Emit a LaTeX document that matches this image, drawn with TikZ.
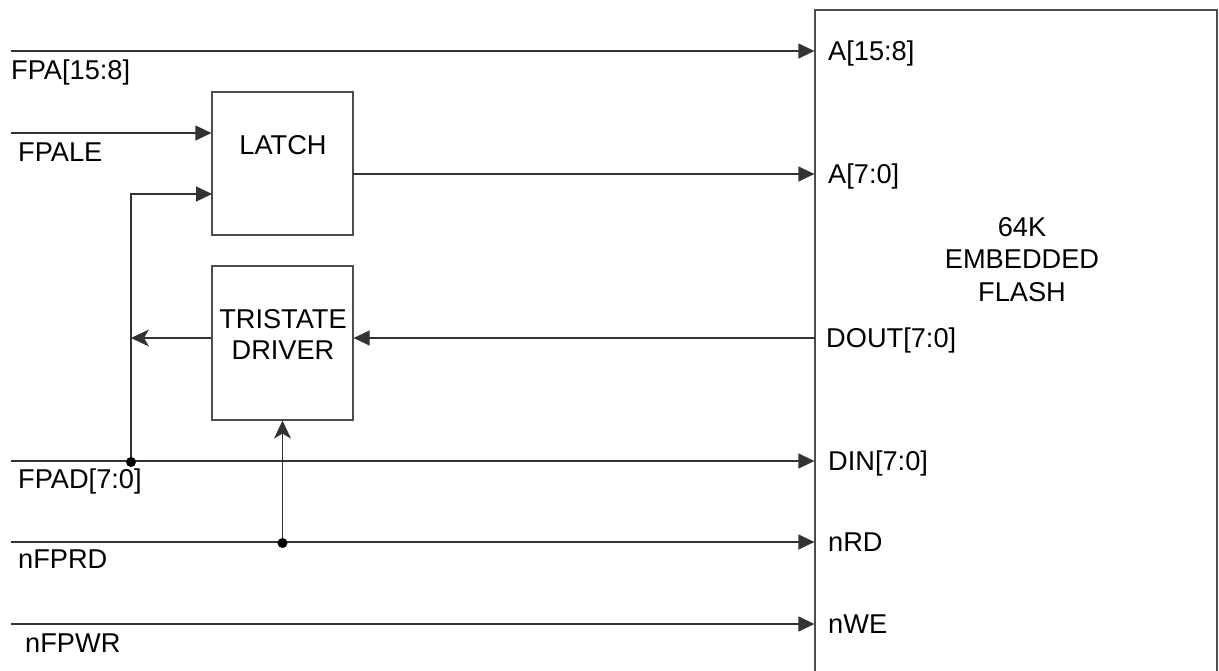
\documentclass[tikz,border=0pt]{standalone}
\usepackage{fontspec}
\setmainfont{Liberation Sans}
\usetikzlibrary{arrows.meta}
\begin{document}
\begin{tikzpicture}[x=1pt,y=-1pt,
  wire/.style={line width=1.2pt, draw=black!80},
  arr/.style={wire,-{Triangle[length=16pt,width=15pt]}},
  sarr/.style={wire,-{Stealth[length=18pt,width=17pt,inset=5pt]}},
  blk/.style={draw=black!70, line width=1.2pt, rectangle, inner sep=0pt},
  lbl/.style={font=\fontsize{27.2}{32}\selectfont, inner sep=0pt, text=black},
  jdot/.style={circle, fill=black, inner sep=0pt, minimum size=10pt}]
\useasboundingbox (0,0) rectangle (1219,670);

% blocks
\node[blk, minimum width=141pt, minimum height=143pt] (latch) at (282.5,163.5) {};
\node[blk, minimum width=141pt, minimum height=154pt] (tri) at (282.5,343) {};
\node[blk, minimum width=402pt, minimum height=700pt] (flash) at (1016,360) {};

% block texts
\node[lbl, anchor=base] (latchtxt) at (283,154) {LATCH};
\node[lbl, anchor=base, align=center, font=\fontsize{27.2}{31}\selectfont] (tritxt) at (283,359) {TRISTATE\\DRIVER};
\node[lbl, anchor=base, align=center, font=\fontsize{27.2}{32.5}\selectfont] (flashtxt) at (1022,301) {64K\\EMBEDDED\\FLASH};

% coordinates
\coordinate (inA) at (11,51);
\coordinate (inALE) at (11,133);
\coordinate (latchin2) at (212,194);
\coordinate (latchout) at (353,174);
\coordinate (dout) at (815,338);
\coordinate (inAD) at (11,461);
\coordinate (j1) at (131,461);
\coordinate (inRD) at (11,542);
\coordinate (j2) at (282.5,542);
\coordinate (inWR) at (11,624);

% wires
\draw[arr] (inA) -- (inA -| flash.west);
\draw[arr] (inALE) -- (inALE -| latch.west);
\draw[arr] (j1) |- (latchin2);
\draw[arr] (latchout) -- (latchout -| flash.west);
\draw[arr] (dout) -- (dout -| tri.east);
\draw[sarr] (dout -| tri.west) -- (dout -| j1);
\draw[arr] (inAD) -- (inAD -| flash.west);
\draw[arr] (inRD) -- (inRD -| flash.west);
\draw[sarr] (j2) -- (j2 |- tri.south);
\draw[arr] (inWR) -- (inWR -| flash.west);
\node[jdot] (d1) at ([yshift=-1pt]j1) {};
\node[jdot] (d2) at ([yshift=-1pt]j2) {};

% left labels
\node[lbl, anchor=base west] (lFPA) at (11,79) {FPA[15:8]};
\node[lbl, anchor=base west] (lFPALE) at (18,161) {FPALE};
\node[lbl, anchor=base west] (lFPAD) at (18,488) {FPAD[7:0]};
\node[lbl, anchor=base west] (lFPRD) at (18,568) {nFPRD};
\node[lbl, anchor=base west] (lFPWR) at (25,652) {nFPWR};

% right labels
\node[lbl, anchor=base west] (rA1) at (828,60) {A[15:8]};
\node[lbl, anchor=base west] (rA0) at (828,183) {A[7:0]};
\node[lbl, anchor=base west] (rDOUT) at (826,347) {DOUT[7:0]};
\node[lbl, anchor=base west] (rDIN) at (828,470) {DIN[7:0]};
\node[lbl, anchor=base west] (rRD) at (828,551) {nRD};
\node[lbl, anchor=base west] (rWE) at (828,633) {nWE};
\end{tikzpicture}
\end{document}
